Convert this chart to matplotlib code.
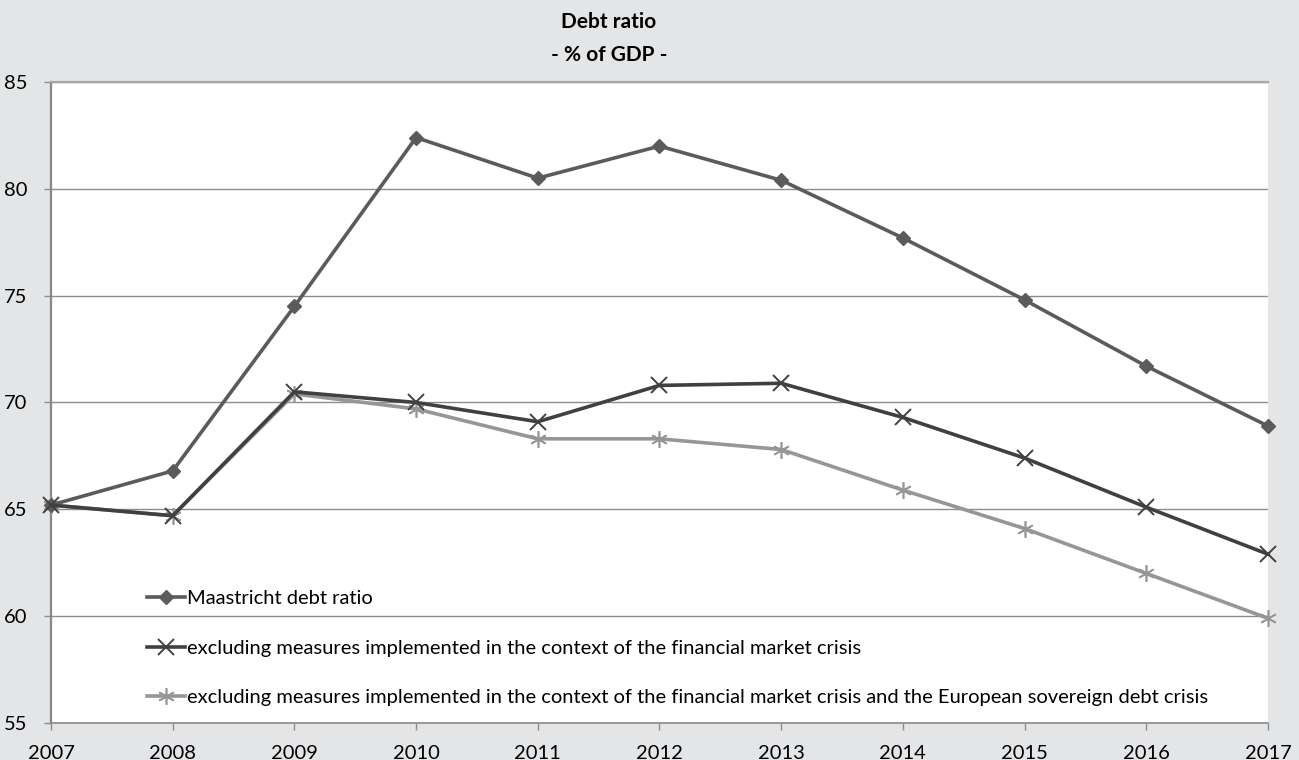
import matplotlib
matplotlib.use("Agg")
import matplotlib.pyplot as plt

plt.rcParams['font.family'] = ['Lato', 'DejaVu Sans']

years = [2007, 2008, 2009, 2010, 2011, 2012, 2013, 2014, 2015, 2016, 2017]
maastricht = [65.2, 66.8, 74.5, 82.4, 80.5, 82.0, 80.4, 77.7, 74.8, 71.7, 68.9]
excl_fin = [65.2, 64.7, 70.5, 70.0, 69.1, 70.8, 70.9, 69.3, 67.4, 65.1, 62.9]
excl_fin_sov = [65.2, 64.7, 70.4, 69.7, 68.3, 68.3, 67.8, 65.9, 64.1, 62.0, 59.9]
y_ticks = [55, 60, 65, 70, 75, 80, 85]

labels = [
    "Maastricht debt ratio",
    "excluding measures implemented in the context of the financial market crisis",
    "excluding measures implemented in the context of the financial market crisis and the European sovereign debt crisis",
]

bg = "#e4e5e7"
fig = plt.figure(figsize=(12.99, 7.6), dpi=100, facecolor=bg)
ax = fig.add_axes([51 / 1299, 1 - 723 / 760, (1268 - 51) / 1299, (723 - 82) / 760])
ax.set_facecolor("white")

ax.plot(years, maastricht, color="#5b5b5b", lw=2.6, marker="D", ms=7.5,
        label=labels[0], clip_on=False, zorder=4)
ax.plot(years, excl_fin, color="#404040", lw=2.6, marker="x", ms=11, mew=1.4,
        label=labels[1], clip_on=False, zorder=5)
ax.plot(years, excl_fin_sov, color="#969696", lw=2.6, marker=(6, 2, 0), ms=12, mew=1.2,
        label=labels[2], clip_on=False, zorder=3)

ax.set_xlim(years[0], years[-1])
ax.set_ylim(y_ticks[0], y_ticks[-1])
ax.set_xticks(years)
ax.set_yticks(y_ticks)

ax.grid(axis="y", color="#8c8c8c", lw=1.0)
ax.set_axisbelow(True)
ax.spines["right"].set_visible(False)
ax.spines["top"].set_color("#a8a8a8")
ax.spines["top"].set_linewidth(1.6)
ax.spines["left"].set_color("#878787")
ax.spines["left"].set_linewidth(1.6)
ax.spines["bottom"].set_color("#8c8c8c")
ax.spines["bottom"].set_linewidth(1.2)

ax.tick_params(axis="x", direction="out", length=5, width=1, color="#8c8c8c",
               labelsize=14.5, pad=11)
ax.tick_params(axis="y", direction="out", length=5, width=1, color="#8c8c8c",
               labelsize=14.5, pad=12)

fig.text(609 / 1299, 1 - 22 / 760, "Debt ratio", ha="center", va="center",
         fontsize=15, fontweight="bold")
fig.text(609 / 1299, 1 - 55 / 760, "- % of GDP -", ha="center", va="center",
         fontsize=15, fontweight="bold")

leg = ax.legend(loc="lower left", bbox_to_anchor=(88 / 1217, 9 / 641),
                frameon=False, fontsize=14.5, handlelength=1.9, handletextpad=0.08,
                labelspacing=1.6, borderaxespad=0)

fig.savefig("out.png", dpi=100, facecolor=bg)
